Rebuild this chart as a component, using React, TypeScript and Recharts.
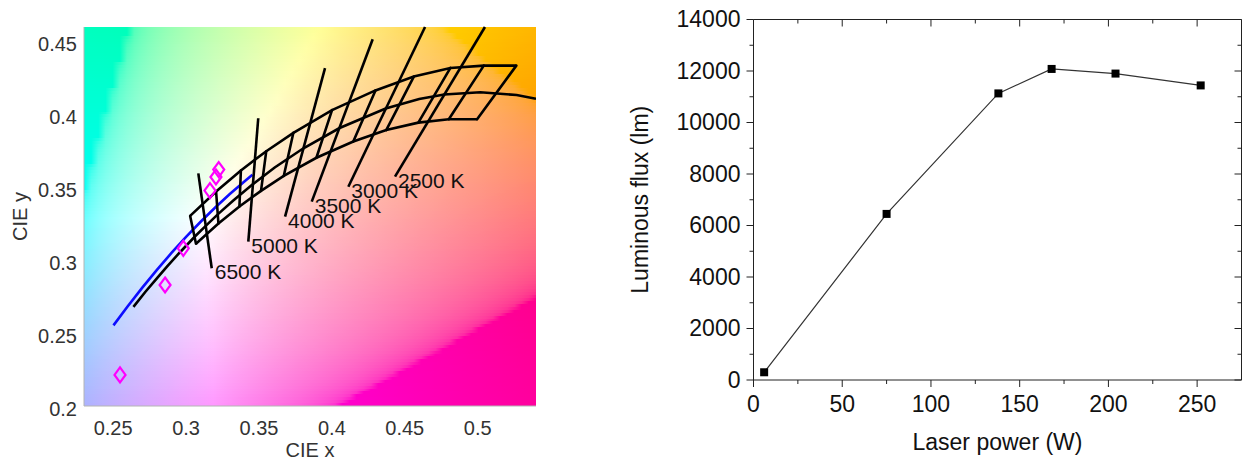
import React from "react";
import {
  ComposedChart,
  LineChart,
  Line,
  XAxis,
  YAxis,
  Scatter,
  ReferenceLine,
  ReferenceArea,
} from "recharts";

// ---------- left panel: CIE 1931 xy close-up ----------
const cieXTicks = [0.25, 0.3, 0.35, 0.4, 0.45, 0.5];
const cieYTicks = [0.2, 0.25, 0.3, 0.35, 0.4, 0.45];

const planckLocus = [
  { x: 0.2639, y: 0.268 },
  { x: 0.272, y: 0.2782 },
  { x: 0.2807, y: 0.2884 },
  { x: 0.2869, y: 0.2956 },
  { x: 0.2952, y: 0.3048 },
  { x: 0.3064, y: 0.3166 },
  { x: 0.3135, y: 0.3236 },
  { x: 0.3221, y: 0.3318 },
  { x: 0.3324, y: 0.341 },
  { x: 0.3451, y: 0.3516 },
  { x: 0.3608, y: 0.3636 },
  { x: 0.3805, y: 0.3768 },
  { x: 0.4053, y: 0.3907 },
  { x: 0.4369, y: 0.4041 },
  { x: 0.4599, y: 0.4106 },
  { x: 0.477, y: 0.4137 },
  { x: 0.5018, y: 0.4152 },
  { x: 0.5267, y: 0.4133 },
  { x: 0.54, y: 0.4108 },
];

const daylightLocus = [
  { x: 0.2502, y: 0.2553 },
  { x: 0.26, y: 0.2684 },
  { x: 0.27, y: 0.2812 },
  { x: 0.28, y: 0.2934 },
  { x: 0.29, y: 0.305 },
  { x: 0.3, y: 0.316 },
  { x: 0.31, y: 0.3264 },
  { x: 0.32, y: 0.3362 },
  { x: 0.33, y: 0.3454 },
  { x: 0.34, y: 0.354 },
  { x: 0.3455, y: 0.3587 },
];

// corners of the binning quadrangles, 6500 K ... 2200 K
const binTopEdge = [
  { x: 0.3028, y: 0.3304 },
  { x: 0.3206, y: 0.3471 },
  { x: 0.3376, y: 0.3616 },
  { x: 0.355, y: 0.3748 },
  { x: 0.3736, y: 0.3874 },
  { x: 0.4001, y: 0.403 },
  { x: 0.4299, y: 0.4165 },
  { x: 0.4562, y: 0.426 },
  { x: 0.4813, y: 0.4319 },
  { x: 0.5042, y: 0.4335 },
  { x: 0.5265, y: 0.4335 },
];
const binBottomEdge = [
  { x: 0.3068, y: 0.3113 },
  { x: 0.3222, y: 0.3252 },
  { x: 0.3366, y: 0.3369 },
  { x: 0.3514, y: 0.3476 },
  { x: 0.367, y: 0.3578 },
  { x: 0.3894, y: 0.3703 },
  { x: 0.4147, y: 0.3814 },
  { x: 0.4373, y: 0.3893 },
  { x: 0.4593, y: 0.3944 },
  { x: 0.4802, y: 0.3967 },
  { x: 0.4996, y: 0.3967 },
];

const isoLabels = ["6500 K", "5000 K", "4000 K", "3500 K", "3000 K", "2500 K"];
const isoTop = [
  { x: 0.3084, y: 0.3596 },
  { x: 0.3495, y: 0.3974 },
  { x: 0.3953, y: 0.4318 },
  { x: 0.428, y: 0.4516 },
  { x: 0.4639, y: 0.46 },
  { x: 0.505, y: 0.46 },
];
const isoBottom = [
  { x: 0.3176, y: 0.2945 },
  { x: 0.3427, y: 0.3127 },
  { x: 0.3679, y: 0.3299 },
  { x: 0.3862, y: 0.3402 },
  { x: 0.4113, y: 0.3504 },
  { x: 0.4433, y: 0.3573 },
];

const sampleX = [0.2547, 0.2856, 0.2981, 0.3164, 0.3205, 0.3224];
const sampleY = [0.2213, 0.283, 0.3082, 0.3478, 0.3571, 0.3622];

// ---------- right panel ----------
const laserPower = [6, 75, 138, 168, 204, 252];
const luminousFlux = [300, 6450, 11130, 12080, 11900, 11440];
const powerTicks = [0, 25, 50, 75, 100, 125, 150, 175, 200, 225, 250];
const fluxTicks = [
  0, 1000, 2000, 3000, 4000, 5000, 6000, 7000, 8000, 9000, 10000, 11000,
  12000, 13000, 14000,
];

const samples = sampleX.map((x, i) => ({ x, y: sampleY[i] }));
const isoLabelPoints = isoBottom.map((p, i) => ({ ...p, label: isoLabels[i] }));
const fluxPoints = laserPower.map((power, i) => ({ power, flux: luminousFlux[i] }));

// background: chromaticity colour of each (x, y), scaled to the max channel,
// then a strong power-law encode (the source image is quite washed out)
function chromaColor(x: number, y: number) {
  const X = x / y;
  const Z = (1 - x - y) / y;
  const r = Math.max(0, 3.2406 * X - 1.5372 - 0.4986 * Z);
  const g = Math.max(0, -0.9689 * X + 1.8758 + 0.0415 * Z);
  const b = Math.max(0, 0.0557 * X - 0.204 + 1.057 * Z);
  const m = Math.max(r, g, b);
  const enc = (c: number) => Math.round(255 * Math.min(1, Math.pow(c / m, 0.3)));
  return `rgb(${enc(r)},${enc(g)},${enc(b)})`;
}

const X_MIN = 0.23;
const X_MAX = 0.54;
const Y_MIN = 0.2;
const Y_MAX = 0.46;
const BG_ROWS = 130;
const BG_COLS = 64;
const rowStep = (Y_MAX - Y_MIN) / BG_ROWS;
const bgRows = Array.from({ length: BG_ROWS }, (_, i) => {
  const y1 = Y_MIN + i * rowStep;
  return { i, y1, y2: Math.min(Y_MAX, y1 + rowStep * 1.6), yc: y1 + rowStep / 2 };
});

const font = "Liberation Sans, Arial, sans-serif";

const CieXTick = (props: any) => {
  const { x, y, payload } = props;
  return (
    <text x={x} y={y + 29} textAnchor="middle" fontSize={20} fill="#333" fontFamily={font}>
      {String(payload.value)}
    </text>
  );
};

const CieYTick = (props: any) => {
  const { x, y, payload } = props;
  return (
    <text x={x - 7} y={y + 9.5} textAnchor="end" fontSize={20} fill="#333" fontFamily={font}>
      {String(payload.value)}
    </text>
  );
};

const IsoLabel = (props: any) => {
  const { cx, cy, payload } = props;
  return (
    <text x={cx + 3} y={cy + 11} fontSize={21} fill="#111" fontFamily={font}>
      {payload.label}
    </text>
  );
};

const Diamond = (props: any) => {
  const { cx, cy } = props;
  const w = 5.5;
  const h = 7.5;
  return (
    <polygon
      points={`${cx},${cy - h} ${cx + w},${cy} ${cx},${cy + h} ${cx - w},${cy}`}
      fill="none"
      stroke="#ff00ff"
      strokeWidth={2.2}
    />
  );
};

// ---------- right panel ticks ----------
const PowerTick = (props: any) => {
  const { x, y, payload } = props;
  const major = payload.value % 50 === 0;
  return (
    <g>
      <line x1={x} y1={y} x2={x} y2={y + (major ? 7 : 4)} stroke="#222" />
      {major && (
        <text x={x} y={y + 31.5} textAnchor="middle" fontSize={23} fill="#111" fontFamily={font}>
          {payload.value}
        </text>
      )}
    </g>
  );
};

const TopTick = (props: any) => {
  const { x, y, payload } = props;
  const major = payload.value % 50 === 0;
  return <line x1={x} y1={y} x2={x} y2={y + (major ? 7 : 4)} stroke="#222" />;
};

const FluxTick = (props: any) => {
  const { x, y, payload } = props;
  const major = payload.value % 2000 === 0;
  return (
    <g>
      <line x1={x - (major ? 7 : 4)} y1={y} x2={x} y2={y} stroke="#222" />
      {major && (
        <text x={x - 13} y={y + 7.5} textAnchor="end" fontSize={23} fill="#111" fontFamily={font}>
          {payload.value}
        </text>
      )}
    </g>
  );
};

const RightTick = (props: any) => {
  const { x, y, payload } = props;
  const major = payload.value % 2000 === 0;
  return <line x1={x - (major ? 7 : 4)} y1={y} x2={x} y2={y} stroke="#222" />;
};

const SquareDot = (props: any) => {
  const { cx, cy, index } = props;
  return <rect key={`sq-${index}`} x={cx - 4} y={cy - 4} width={8} height={8} fill="#000" />;
};

export default function App() {
  return (
    <div style={{ position: "absolute", left: 0, top: 0, width: 1243, height: 467, background: "#fff" }}>
      <div style={{ position: "absolute", left: 0, top: 0 }}>
        <ComposedChart width={600} height={467} margin={{ top: 27, right: 64, bottom: 5, left: 24 }}>
          <defs>
            {bgRows.map((r) => (
              <linearGradient key={r.i} id={`cie-row-${r.i}`} x1="0" y1="0" x2="1" y2="0">
                {Array.from({ length: BG_COLS }, (_, j) => (
                  <stop
                    key={j}
                    offset={j / (BG_COLS - 1)}
                    stopColor={chromaColor(X_MIN + (j / (BG_COLS - 1)) * (X_MAX - X_MIN), r.yc)}
                  />
                ))}
              </linearGradient>
            ))}
          </defs>
          <XAxis
            type="number"
            dataKey="x"
            domain={[X_MIN, X_MAX]}
            ticks={cieXTicks}
            allowDataOverflow
            tickSize={0}
            tickMargin={0}
            tickLine={false}
            tick={(p: any) => <CieXTick {...p} />}
            axisLine={{ stroke: "#b4b4b4" }}
            height={56}
            label={(p: any) => {
              const vb = p.viewBox || { x: 84, width: 452 };
              return (
                <text x={vb.x + vb.width / 2} y={456.5} textAnchor="middle" fontSize={20} fill="#333" fontFamily={font}>
                  CIE x
                </text>
              );
            }}
          />
          <YAxis
            type="number"
            dataKey="y"
            domain={[Y_MIN, Y_MAX]}
            ticks={cieYTicks}
            allowDataOverflow
            tickSize={0}
            tickMargin={0}
            tickLine={false}
            tick={(p: any) => <CieYTick {...p} />}
            axisLine={{ stroke: "#b4b4b4" }}
            width={60}
            label={(p: any) => {
              const vb = p.viewBox || { y: 27, height: 379 };
              const cy = vb.y + vb.height / 2;
              return (
                <text
                  x={20}
                  y={cy}
                  transform={`rotate(-90 20 ${cy})`}
                  textAnchor="middle"
                  dominantBaseline="central"
                  fontSize={20}
                  fill="#333"
                  fontFamily={font}
                >
                  CIE y
                </text>
              );
            }}
          />
          {bgRows.map((r) => (
            <ReferenceArea
              key={`bg-${r.i}`}
              x1={X_MIN}
              x2={X_MAX}
              y1={r.y1}
              y2={r.y2}
              fill={`url(#cie-row-${r.i})`}
              fillOpacity={1}
              stroke="none"
              shapeRendering="crispEdges"
            />
          ))}
          <Line data={daylightLocus} dataKey="y" stroke="#0d0dff" strokeWidth={2.6} dot={false} isAnimationActive={false} />
          <Line data={planckLocus} dataKey="y" stroke="#000" strokeWidth={2.6} dot={false} isAnimationActive={false} />
          <Line data={binTopEdge} dataKey="y" stroke="#000" strokeWidth={2.6} dot={false} isAnimationActive={false} />
          <Line data={binBottomEdge} dataKey="y" stroke="#000" strokeWidth={2.6} dot={false} isAnimationActive={false} />
          {binTopEdge.map((t, i) => (
            <ReferenceLine
              key={`bin-${i}`}
              segment={[t, binBottomEdge[i]]}
              stroke="#000"
              strokeWidth={2.6}
              strokeLinecap="round"
            />
          ))}
          {isoTop.map((t, i) => (
            <ReferenceLine key={`iso-${i}`} segment={[t, isoBottom[i]]} stroke="#000" strokeWidth={2.6} />
          ))}
          <Scatter data={isoLabelPoints} shape={(p: any) => <IsoLabel {...p} />} isAnimationActive={false} />
          <Scatter data={samples} shape={(p: any) => <Diamond {...p} />} isAnimationActive={false} />
        </ComposedChart>
      </div>

      <div style={{ position: "absolute", left: 600, top: 0 }}>
        <LineChart width={643} height={467} margin={{ top: 18.5, right: 0.5, bottom: 7, left: 53.5 }}>
          <XAxis
            xAxisId="b"
            type="number"
            dataKey="power"
            domain={[0, 275]}
            ticks={powerTicks}
            allowDataOverflow
            tickSize={0}
            tickMargin={0}
            tickLine={false}
            tick={(p: any) => <PowerTick {...p} />}
            axisLine={{ stroke: "#222" }}
            height={80}
            label={(p: any) => {
              const vb = p.viewBox || { x: 153.5, width: 488 };
              return (
                <text x={vb.x + vb.width / 2} y={450} textAnchor="middle" fontSize={23} fill="#111" fontFamily={font}>
                  Laser power (W)
                </text>
              );
            }}
          />
          <XAxis
            xAxisId="t"
            orientation="top"
            type="number"
            dataKey="power"
            domain={[0, 275]}
            ticks={powerTicks}
            allowDataOverflow
            tickSize={0}
            tickMargin={0}
            tickLine={false}
            tick={(p: any) => <TopTick {...p} />}
            axisLine={{ stroke: "#222" }}
            height={1}
          />
          <YAxis
            yAxisId="l"
            type="number"
            domain={[0, 14000]}
            ticks={fluxTicks}
            allowDataOverflow
            tickSize={0}
            tickMargin={0}
            tickLine={false}
            tick={(p: any) => <FluxTick {...p} />}
            axisLine={{ stroke: "#222" }}
            width={100}
            label={(p: any) => {
              const vb = p.viewBox || { y: 19.5, height: 360.5 };
              const cy = vb.y + vb.height / 2;
              return (
                <text
                  x={40}
                  y={cy}
                  transform={`rotate(-90 40 ${cy})`}
                  textAnchor="middle"
                  dominantBaseline="central"
                  fontSize={23}
                  fill="#111"
                  fontFamily={font}
                >
                  Luminous flux (lm)
                </text>
              );
            }}
          />
          <YAxis
            yAxisId="r"
            orientation="right"
            type="number"
            domain={[0, 14000]}
            ticks={fluxTicks}
            allowDataOverflow
            tickSize={0}
            tickMargin={0}
            tickLine={false}
            tick={(p: any) => <RightTick {...p} />}
            axisLine={{ stroke: "#222" }}
            width={1}
          />
          <Line
            xAxisId="b"
            yAxisId="l"
            data={fluxPoints}
            dataKey="flux"
            stroke="#333"
            strokeWidth={1.2}
            dot={(p: any) => <SquareDot {...p} />}
            isAnimationActive={false}
          />
          <Line
            xAxisId="t"
            yAxisId="r"
            data={fluxPoints}
            dataKey="flux"
            stroke="none"
            dot={false}
            isAnimationActive={false}
          />
        </LineChart>
      </div>
    </div>
  );
}
